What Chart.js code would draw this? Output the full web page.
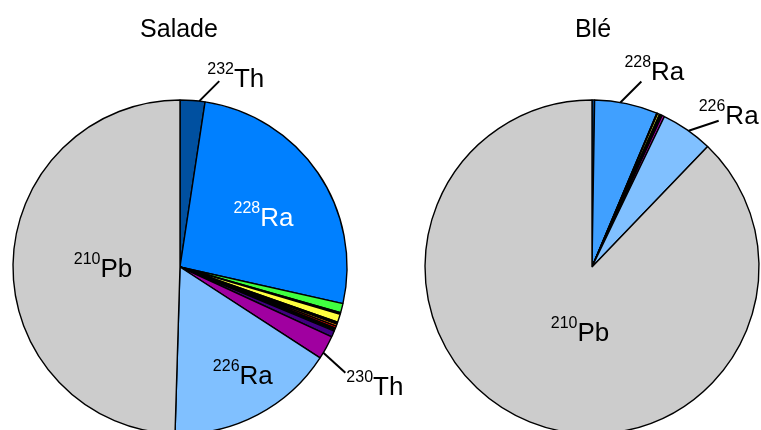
<!DOCTYPE html>
<html>
<head>
<meta charset="utf-8">
<script src="https://cdn.jsdelivr.net/npm/chart.js@4/dist/chart.umd.min.js"></script>
<style>
  html, body { margin: 0; padding: 0; background: #fff; }
  #wrap { position: relative; width: 761px; height: 430px; overflow: hidden; background: #fff; }
  canvas { position: absolute; top: 0; }
</style>
</head>
<body>
<div id="wrap">
  <canvas id="salade" width="430" height="480" style="left:0px"></canvas>
  <canvas id="ble" width="381" height="480" style="left:380px"></canvas>
</div>
<script>
// ---- data ----
const categories = ['232Th', '228Ra', '228Th', '224Ra', '212Pb', '212Bi', '238U', '234U', '235U', '227Ac', '230Th', '226Ra', '210Pb'];
const saladeValues = [2.4, 26.1, 0.9, 0.15, 0.8, 0.2, 0.2, 0.2, 0.3, 0.6, 2.3, 16.3, 49.5];
const bleValues = [0.25, 6.1, 0.03, 0.05, 0.2, 0.05, 0.03, 0.03, 0.05, 0.1, 0.25, 5.03, 87.8];
const chartTitles = ['Salade', 'Blé'];

// ---- styles ----
const saladeColors = ['#0050A0', '#0080FF', '#40FF40', '#000000', '#FFFF40', '#000000', '#FF8000', '#FF0000', '#000000', '#400080', '#A000A0', '#80C0FF', '#CCCCCC'];
const bleColors    = ['#0050A0', '#40A0FF', '#40FF40', '#000000', '#FFFF40', '#000000', '#FF8000', '#FF0000', '#000000', '#400080', '#A000A0', '#80C0FF', '#CCCCCC'];
const FONT = '"Liberation Sans", Arial, Helvetica, sans-serif';

function splitLabel(s) {
  const m = /^(\d+)(.*)$/.exec(s);
  return m ? [m[1], m[2]] : ['', s];
}

const isoLabels = {
  id: 'isoLabels',
  afterDatasetsDraw(chart, args, opts) {
    const ctx = chart.ctx;
    const meta = chart.getDatasetMeta(0);
    const a0 = meta.data[0];
    const cx = a0.x, cy = a0.y;
    ctx.save();
    ctx.fillStyle = '#000';
    ctx.textBaseline = 'alphabetic';
    ctx.textAlign = 'center';
    ctx.font = '25px ' + FONT;
    ctx.fillText(opts.title, cx + opts.titleDx, opts.titleY);
    ctx.textAlign = 'left';
    (opts.labels || []).forEach(l => {
      const arc = meta.data[l.index];
      const R = arc.outerRadius;
      const ang = (arc.startAngle + arc.endAngle) / 2 + (l.shift || 0) * Math.PI / 180;
      const [sup, main] = splitLabel(chart.data.labels[l.index]);
      ctx.font = '16px ' + FONT;
      const ws = ctx.measureText(sup).width;
      ctx.font = '26px ' + FONT;
      const wm = ctx.measureText(main).width;
      let left, base;
      if (l.type === 'inside') {
        const px = cx + l.r * R * Math.cos(ang);
        const py = cy + l.r * R * Math.sin(ang);
        left = px - (ws + wm) / 2;
        base = py + 9;
      } else {
        const sx = cx + R * Math.cos(ang);
        const sy = cy + R * Math.sin(ang);
        const ex = sx + l.leader[0];
        const ey = sy + l.leader[1];
        ctx.strokeStyle = '#000';
        ctx.lineWidth = 2;
        ctx.beginPath();
        ctx.moveTo(sx, sy);
        ctx.lineTo(ex, ey);
        ctx.stroke();
        left = ex + l.text[0];
        base = ey + l.text[1];
      }
      ctx.fillStyle = l.color || '#000';
      ctx.font = '16px ' + FONT;
      ctx.fillText(sup, left, base - 13);
      ctx.font = '26px ' + FONT;
      ctx.fillText(main, left + ws, base);
    });
    ctx.restore();
  }
};

function makePie(id, values, colors, padding, pluginOpts) {
  return new Chart(document.getElementById(id), {
    type: 'pie',
    data: {
      labels: categories,
      datasets: [{
        data: values,
        backgroundColor: colors,
        borderColor: '#000000',
        borderWidth: 1.4,
        radius: 167,
        hoverOffset: 0
      }]
    },
    options: {
      responsive: false,
      animation: false,
      devicePixelRatio: 1,
      layout: { padding: padding },
      plugins: {
        legend: { display: false },
        tooltip: { enabled: false },
        title: { display: false },
        isoLabels: pluginOpts
      }
    },
    plugins: [isoLabels]
  });
}

makePie('salade', saladeValues, saladeColors,
  { left: 13, right: 83, top: 100, bottom: 46 },
  {
    title: chartTitles[0], titleY: 37, titleDx: -1,
    labels: [
      { index: 0, type: 'outside', shift: 2.3, leader: [20, -20], text: [-12, 6] },
      { index: 1, type: 'inside', r: 0.583, shift: 3.4, color: '#FFFFFF' },
      { index: 10, type: 'outside', shift: 2, leader: [22, 20], text: [1, 22] },
      { index: 11, type: 'inside', r: 0.747, shift: -2.6 },
      { index: 12, type: 'inside', r: 0.461, shift: -1.6 }
    ]
  });

makePie('ble', bleValues, bleColors,
  { left: 45, right: 2, top: 100, bottom: 46 },
  {
    title: chartTitles[1], titleY: 37, titleDx: 1,
    labels: [
      { index: 1, type: 'outside', shift: -2.1, leader: [21, -21], text: [-17, -1] },
      { index: 11, type: 'outside', shift: 0.6, leader: [30, -10], text: [-20, 3] },
      { index: 12, type: 'inside', r: 0.396, shift: -11.5 }
    ]
  });
</script>
</body>
</html>
